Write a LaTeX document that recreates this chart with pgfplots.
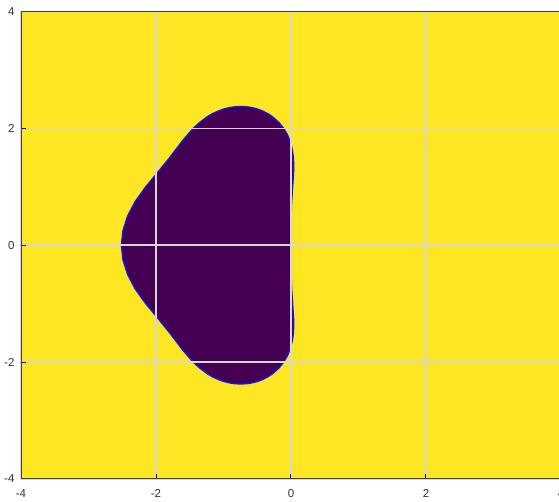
\documentclass[border=0pt]{standalone}
\usepackage{fontspec}
\setmainfont{Liberation Sans}
\usepackage{pgfplots}
\pgfplotsset{compat=1.18}
\definecolor{vyellow}{RGB}{253,231,37}
\definecolor{vpurple}{RGB}{68,1,84}
\definecolor{bline}{RGB}{20,20,240}
\definecolor{gridgray}{RGB}{215,215,212}
\begin{document}
\begin{tikzpicture}
\path[use as bounding box] (-21pt,-23pt) rectangle (538pt,479pt);
\clip (-21pt,-23pt) rectangle (538pt,479pt);
\begin{axis}[
  at={(0,0)}, anchor=south west,
  scale only axis, width=540pt, height=467.5pt,
  xmin=-4, xmax=4, ymin=-4, ymax=4,
  xtick={-4,-2,0,2,4}, ytick={-4,-2,0,2,4},
  grid=major, grid style={color=gridgray, line width=1.6pt},
  axis on top,
  axis background/.style={fill=vyellow},
  axis line style={black!75, line width=1pt},
  tick style={black, line width=1pt},
  major tick length=5pt, tick align=inside, tick pos=left,
  /pgf/number format/assume math mode=true,
  tick label style={font=\fontsize{11.5}{13}\selectfont, text=black!80},
  xticklabel style={yshift=-7pt},
  yticklabel style={xshift=-3pt},
]
\addplot[fill=vpurple, draw=bline, line width=1.3pt] coordinates {
(0,0) (0.0024,0.5) (0.0103,0.75) (0.0249,1.0) (0.0386,1.25) (0.04,1.4) (0.0355,1.5)
(0.0251,1.6) (0.0074,1.7) (0,1.732) (-0.0192,1.8) (-0.0566,1.9) (-0.1079,2.0)
(-0.1776,2.1) (-0.2749,2.2) (-0.3404,2.25) (-0.4258,2.3) (-0.4953,2.33) (-0.558,2.35)
(-0.6003,2.36) (-0.664,2.37) (-0.745,2.3745) (-0.825,2.37) (-0.89,2.36) (-0.934,2.35)
(-0.9995,2.33) (-1.0716,2.3) (-1.166,2.25) (-1.2397,2.2) (-1.354,2.1) (-1.4487,2.0)
(-1.525,1.9) (-1.5987,1.8) (-1.6443,1.732) (-1.6653,1.7) (-1.7309,1.6) (-1.797,1.5)
(-1.9724,1.25) (-2.152,1.0) (-2.3072,0.75) (-2.421,0.5) (-2.4899,0.25) (-2.5127,0)
(-2.4899,-0.25) (-2.421,-0.5) (-2.3072,-0.75) (-2.152,-1.0) (-1.9724,-1.25) (-1.797,-1.5)
(-1.7309,-1.6) (-1.6653,-1.7) (-1.6443,-1.732) (-1.5987,-1.8) (-1.525,-1.9) (-1.4487,-2.0)
(-1.354,-2.1) (-1.2397,-2.2) (-1.166,-2.25) (-1.0716,-2.3) (-0.9995,-2.33) (-0.934,-2.35)
(-0.89,-2.36) (-0.825,-2.37) (-0.745,-2.3745) (-0.664,-2.37) (-0.6003,-2.36) (-0.558,-2.35)
(-0.4953,-2.33) (-0.4258,-2.3) (-0.3404,-2.25) (-0.2749,-2.2) (-0.1776,-2.1) (-0.1079,-2.0)
(-0.0566,-1.9) (-0.0192,-1.8) (0,-1.732) (0.0074,-1.7) (0.0251,-1.6) (0.0355,-1.5)
(0.04,-1.4) (0.0386,-1.25) (0.0249,-1.0) (0.0103,-0.75) (0.0024,-0.5) (0,0)
} -- cycle;
\end{axis}
\end{tikzpicture}
\end{document}
